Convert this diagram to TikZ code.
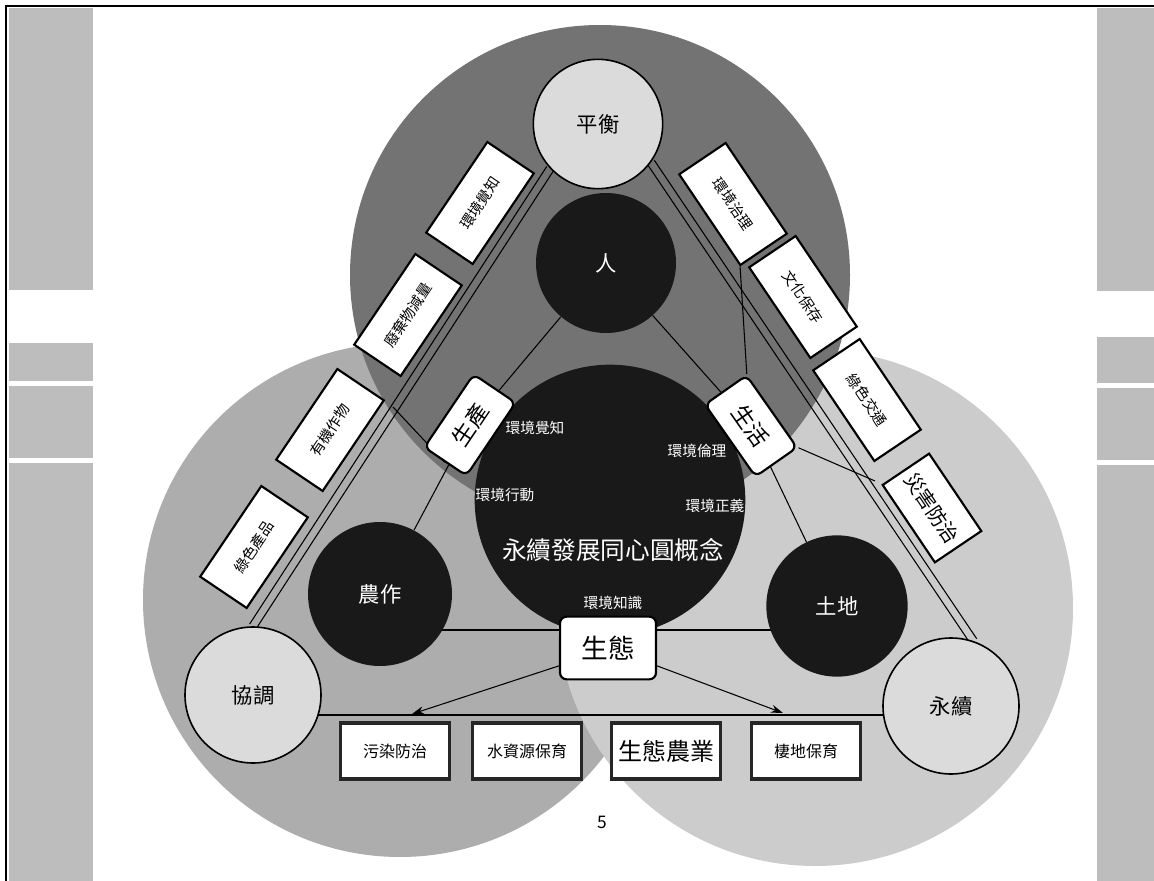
\documentclass[tikz,border=0pt]{standalone}
\usepackage{fontspec}
\newfontfamily\cjk{Noto Sans CJK TC}
\usetikzlibrary{calc,arrows.meta}
\pgfdeclarelayer{back}
\pgfdeclarelayer{lines}
\pgfsetlayers{back,lines,main}
\definecolor{topc}{gray}{0.45}
\definecolor{leftc}{gray}{0.68}
\definecolor{rightc}{gray}{0.80}
\definecolor{darkc}{gray}{0.10}
\definecolor{lightc}{gray}{0.86}
\definecolor{stripc}{gray}{0.74}
\tikzset{
  pt/.style={circle, draw=black, line width=1.2pt, fill=lightc, inner sep=0pt, minimum size=#1, font=\cjk\fontsize{16}{16}\selectfont},
  dk/.style={circle, fill=darkc, inner sep=0pt, minimum size=#1, text=white, font=\cjk\fontsize{16}{16}\selectfont},
  sbox/.style={draw=black, line width=1.6pt, fill=white, minimum width=82pt, minimum height=42pt, inner sep=1pt, font=\cjk\fontsize{11}{11}\selectfont},
  rbox/.style={draw=black, line width=1.6pt, fill=white, rounded corners=5pt, inner sep=1pt, font=\cjk\fontsize{17}{17}\selectfont},
  bbox/.style={draw=black!85, line width=2.5pt, fill=white, minimum width=82pt, minimum height=42pt, inner sep=1pt, font=\cjk\fontsize{12}{12}\selectfont},
  wl/.style={text=white, font=\cjk\fontsize{11}{11}\selectfont, inner sep=1pt},
  conn/.style={draw=black, line width=0.8pt},
}
\begin{document}
\begin{tikzpicture}[x=0.75pt,y=-0.75pt]
\useasboundingbox (0,0) rectangle (1154,881);
\begin{pgfonlayer}{back}
\fill[white] (0,0) rectangle (1154,881);
\fill[leftc] (400,600) circle[radius=257];
\fill[rightc] (815,608) circle[radius=258];
\fill[topc] (600,275) circle[radius=250];
\end{pgfonlayer}
% side strips and frame
\fill[stripc] (9,8) rectangle (93,290);
\fill[stripc] (9,343) rectangle (93,381);
\fill[stripc] (9,386) rectangle (93,458);
\fill[stripc] (9,463) rectangle (93,881);
\fill[stripc] (1097,8) rectangle (1154,291);
\fill[stripc] (1097,337) rectangle (1154,383);
\fill[stripc] (1097,388) rectangle (1154,460);
\fill[stripc] (1097,465) rectangle (1154,881);
\draw[line width=2pt] (6,881) -- (6,6) -- (1154,6);

% main circles
\node[pt=97pt] (ph) at (598,124) {平衡};
\node[dk=105pt] (ren) at (606,263) {人};
\node[dk=203pt] (cc) at (610,500) {};
\node[dk=108pt] (nz) at (380,594) {農作};
\node[dk=106pt] (td) at (837,606) {土地};
\node[pt=102pt] (xt) at (253,695) {協調};
\node[pt=102pt] (yx) at (951,706) {永續};

% labels inside centre circle
\node[wl] (e1) at (535,428) {環境覺知};
\node[wl] (e2) at (697,451) {環境倫理};
\node[wl] (e3) at (505,495) {環境行動};
\node[wl] (e4) at (715,506) {環境正義};
\node[wl] (e5) at (613,603) {環境知識};
\node[text=white, inner sep=0pt, font=\cjk\fontsize{18.5}{18.5}\selectfont] (e0) at (613,550) {永續發展同心圓概念};

% side boxes
\node[sbox, rotate=56] (l1) at (480,203) {環境覺知};
\node[sbox, rotate=56] (l2) at (408,315) {廢棄物減量};
\node[sbox, rotate=56] (l3) at (330,430) {有機作物};
\node[sbox, rotate=56] (l4) at (254,547) {綠色產品};
\node[sbox, rotate=-56] (r1) at (733,204) {環境治理};
\node[sbox, rotate=-56] (r2) at (803,297) {文化保存};
\node[sbox, rotate=-56] (r3) at (867,400) {綠色交通};
\node[sbox, rotate=-56, minimum width=70pt, font=\cjk\fontsize{15}{15}\selectfont] (r4) at (932,508) {災害防治};

% rounded boxes
\node[rbox, rotate=56, minimum width=66pt, minimum height=38pt] (sc) at (470,425) {生產};
\node[rbox, rotate=-55, minimum width=66pt, minimum height=38pt] (sh) at (751,426) {生活};
\node[rbox, minimum width=72pt, minimum height=47pt, font=\cjk\fontsize{20}{20}\selectfont] (st) at (608,648) {生態};

% bottom boxes
\node[bbox] (b1) at (395,751) {污染防治};
\node[bbox] (b2) at (527,751) {水資源保育};
\node[bbox, font=\cjk\fontsize{18}{18}\selectfont] (b3) at (666,751) {生態農業};
\node[bbox] (b4) at (806,751) {棲地保育};

\node[inner sep=0pt, font=\cjk\fontsize{13}{13}\selectfont] (pg) at (602,822) {5};

\coordinate (a1) at (412,714);
\coordinate (a2) at (783,713);
\coordinate (cL) at (393,407);
\coordinate (cR) at (875,481);

\begin{pgfonlayer}{lines}
% outer triangle bands
\draw[conn] ($(ph.-137)!3pt!90:(xt.90)$) -- ($(xt.90)!3pt!-90:(ph.-137)$);
\draw[conn] ($(ph.-137)!3pt!-90:(xt.90)$) -- ($(xt.90)!3pt!90:(ph.-137)$);
\draw[conn] ($(ph.-36)!3pt!90:(yx.71)$) -- ($(yx.71)!3pt!-90:(ph.-36)$);
\draw[conn] ($(ph.-36)!3pt!-90:(yx.71)$) -- ($(yx.71)!3pt!90:(ph.-36)$);
\draw[conn] ($(xt)+(0,20)$) -- ($(yx)+(0,9)$);
% inner triangle
\draw[conn] (ren) -- (sc) -- (nz);
\draw[conn] (ren) -- (sh) -- (td);
\draw[conn] ($(nz)+(0,36)$) -- ($(td)+(0,24)$);
% extra links
\draw[conn] (sh.north west) -- (r1.south east);
\draw[conn] (sh.north east) -- (cR);
\draw[conn] (sc.west) -- (cL);
\end{pgfonlayer}
% arrows
\draw[conn, -{Stealth[length=9pt,width=6pt]}] (st.-160) -- (a1);
\draw[conn, -{Stealth[length=9pt,width=6pt]}] (st.-20) -- (a2);
\end{tikzpicture}
\end{document}
